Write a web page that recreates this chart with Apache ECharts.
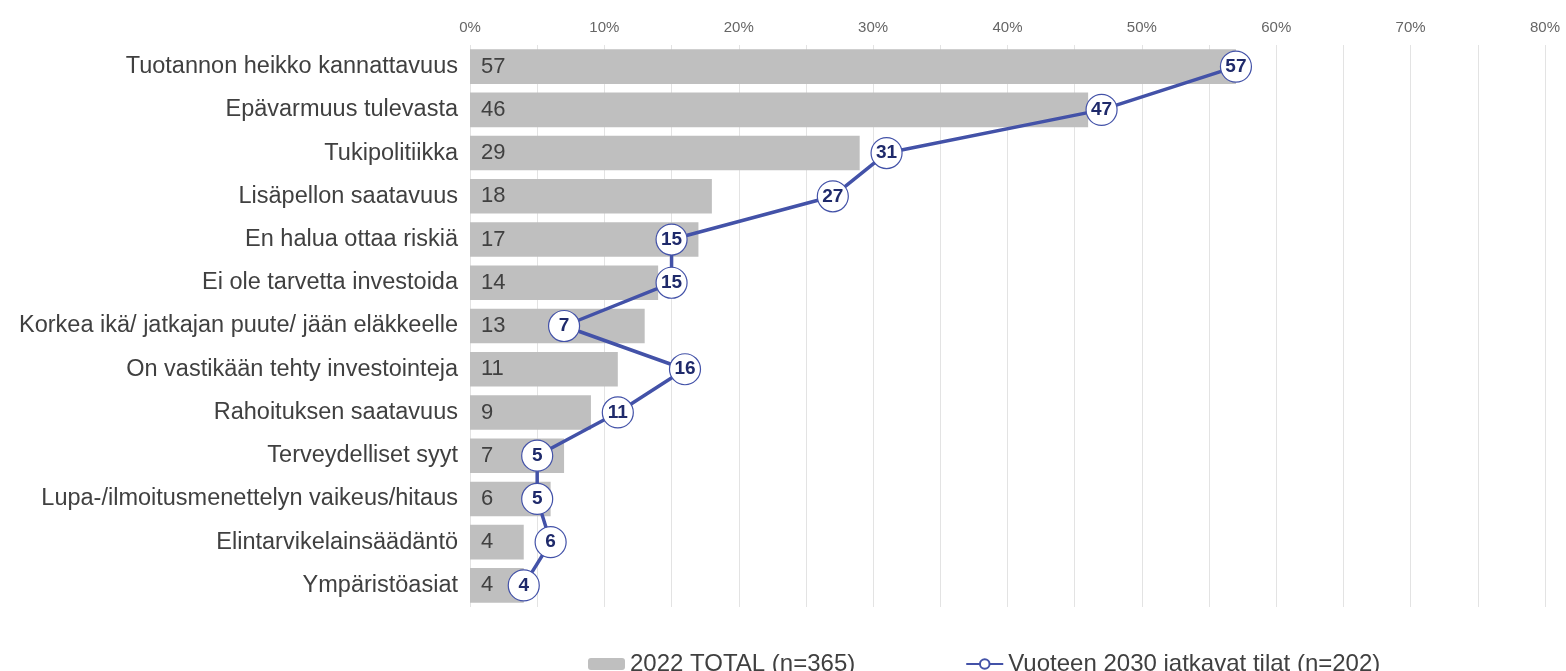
<!DOCTYPE html>
<html>
<head>
<meta charset="utf-8">
<script src="https://cdn.jsdelivr.net/npm/echarts@6/dist/echarts.min.js"></script>
<style>
html, body { margin: 0; padding: 0; background: #fff; }
#main { width: 1566px; height: 671px; }
</style>
</head>
<body>
<div id="main"></div>
<script>
var categories = [
	"Tuotannon heikko kannattavuus",
	"Epävarmuus tulevasta",
	"Tukipolitiikka",
	"Lisäpellon saatavuus",
	"En halua ottaa riskiä",
	"Ei ole tarvetta investoida",
	"Korkea ikä/ jatkajan puute/ jään eläkkeelle",
	"On vastikään tehty investointeja",
	"Rahoituksen saatavuus",
	"Terveydelliset syyt",
	"Lupa-/ilmoitusmenettelyn vaikeus/hitaus",
	"Elintarvikelainsäädäntö",
	"Ympäristöasiat"
];
var totalValues = [57, 46, 29, 18, 17, 14, 13, 11, 9, 7, 6, 4, 4];
var jatkavatValues = [57, 47, 31, 27, 15, 15, 7, 16, 11, 5, 5, 6, 4];
var seriesNames = ["2022 TOTAL (n=365)", "Vuoteen 2030 jatkavat tilat (n=202)"];

var font = "Liberation Sans, Arial, sans-serif";
var chart = echarts.init(document.getElementById('main'));
chart.setOption({
	animation: false,
	textStyle: { fontFamily: font },
	grid: {
		left: 470,
		right: 21,
		top: 45,
		bottom: 64
	},
	legend: {
		left: 583,
		top: 647,
		itemWidth: 37,
		itemHeight: 12,
		itemGap: 110,
		textStyle: { fontSize: 24, color: '#404040', fontFamily: font },
		data: seriesNames
	},
	xAxis: {
		type: 'value',
		position: 'top',
		min: 0,
		max: 80,
		interval: 5,
		axisLine: { show: false },
		axisTick: { show: false },
		axisLabel: {
			margin: 10,
			fontSize: 15,
			color: '#666666',
			formatter: function(v) {
				return v % 10 == 0 ? v + '%' : '';
			}
		},
		splitLine: { lineStyle: { color: '#e3e3e3', width: 1 } }
	},
	yAxis: {
		type: 'category',
		inverse: true,
		data: categories,
		axisLine: { show: false },
		axisTick: { show: false },
		axisLabel: { margin: 12, fontSize: 23.5, color: '#404040' }
	},
	series: [{
		name: seriesNames[0],
		type: 'bar',
		data: totalValues,
		barCategoryGap: '20%',
		itemStyle: { color: '#bfbfbf' },
		label: {
			show: true,
			position: 'insideLeft',
			offset: [6, 0],
			fontSize: 22,
			color: '#404040'
		}
	}, {
		name: seriesNames[1],
		type: 'line',
		data: jatkavatValues,
		symbol: 'circle',
		symbolSize: 31,
		lineStyle: { color: '#4352a8', width: 3.5 },
		itemStyle: { color: '#ffffff', borderColor: '#4352a8', borderWidth: 1.2 },
		label: {
			show: true,
			position: 'inside',
			fontSize: 19,
			fontWeight: 'bold',
			color: '#1f2a6b'
		},
		z: 3
	}]
});
</script>
</body>
</html>
